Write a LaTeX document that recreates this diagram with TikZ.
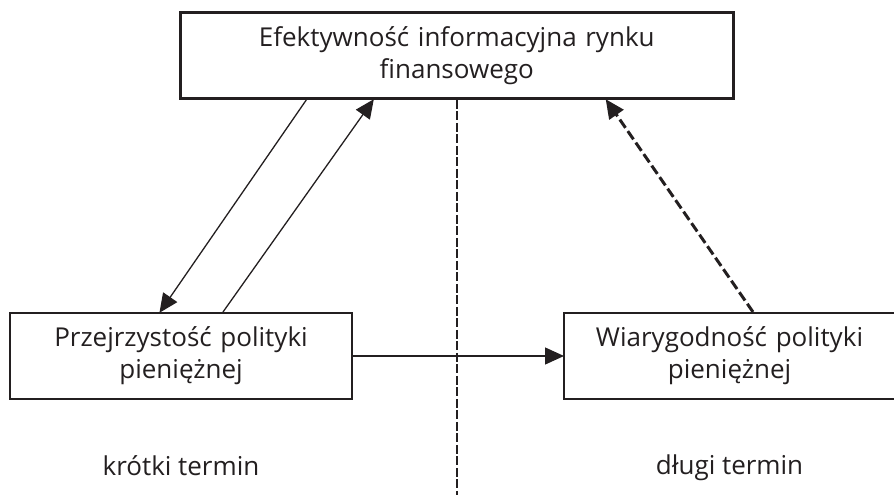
\documentclass[tikz,border=0pt]{standalone}
\usepackage{fontspec}
\setmainfont{Open Sans}
\usepackage{tikz}
\usetikzlibrary{arrows.meta, positioning}
\definecolor{ink}{HTML}{231F20}

\begin{document}
\begin{tikzpicture}[x=1pt, y=1pt, node distance=210pt,
    block/.style={rectangle, draw=ink, line width=2pt, text=ink, text centered, inner sep=0pt, minimum height=86pt, font=\fontsize{26}{32}\selectfont},
    termin/.style={text=ink, inner sep=0pt, font=\fontsize{26}{30}\selectfont},
    line/.style={draw=ink, line width=1.3pt, -{Triangle[length=19pt, width=17pt]}, shorten >=-1pt},
    przer/.style={line width=3pt, dash pattern=on 10pt off 4pt},
    granica/.style={draw=ink, line width=2.4pt, dash pattern=on 9pt off 2.5pt}]

    \useasboundingbox (0,0) rectangle (894,495);

    % Bloki
    \node [block, text width=342pt] (przej) at (181,139) {Przejrzystość polityki\\pieniężnej};
    \node [block, text width=331pt, right=210pt of przej] (wiar) {Wiarygodność polityki\\pieniężnej};
    \node [block, text width=553pt, line width=2.5pt, above right=212pt and 170pt of przej.north west] (rynek) {Efektywność informacyjna rynku\\finansowego};

    % Horyzont
    \node [termin, below=55pt of przej] (krotki) {krótki termin};
    \node [termin, below=55pt of wiar] (dlugi) {długi termin};

    % Granica
    \coordinate (dol) at (rynek.south |- 0,0);
    \draw [granica] (rynek.south) -- (dol);

    % Strzalki
    \path [line] ([xshift=-150.5pt]rynek.south) -- ([xshift=-21pt]przej.north);
    \path [line] ([xshift=42pt]przej.north) -- ([xshift=-83.5pt]rynek.south);
    \path [line] (przej) -- (wiar);
    \path [line, przer] ([xshift=23.5pt]wiar.north) -- ([xshift=149.5pt]rynek.south);

\end{tikzpicture}
\end{document}
